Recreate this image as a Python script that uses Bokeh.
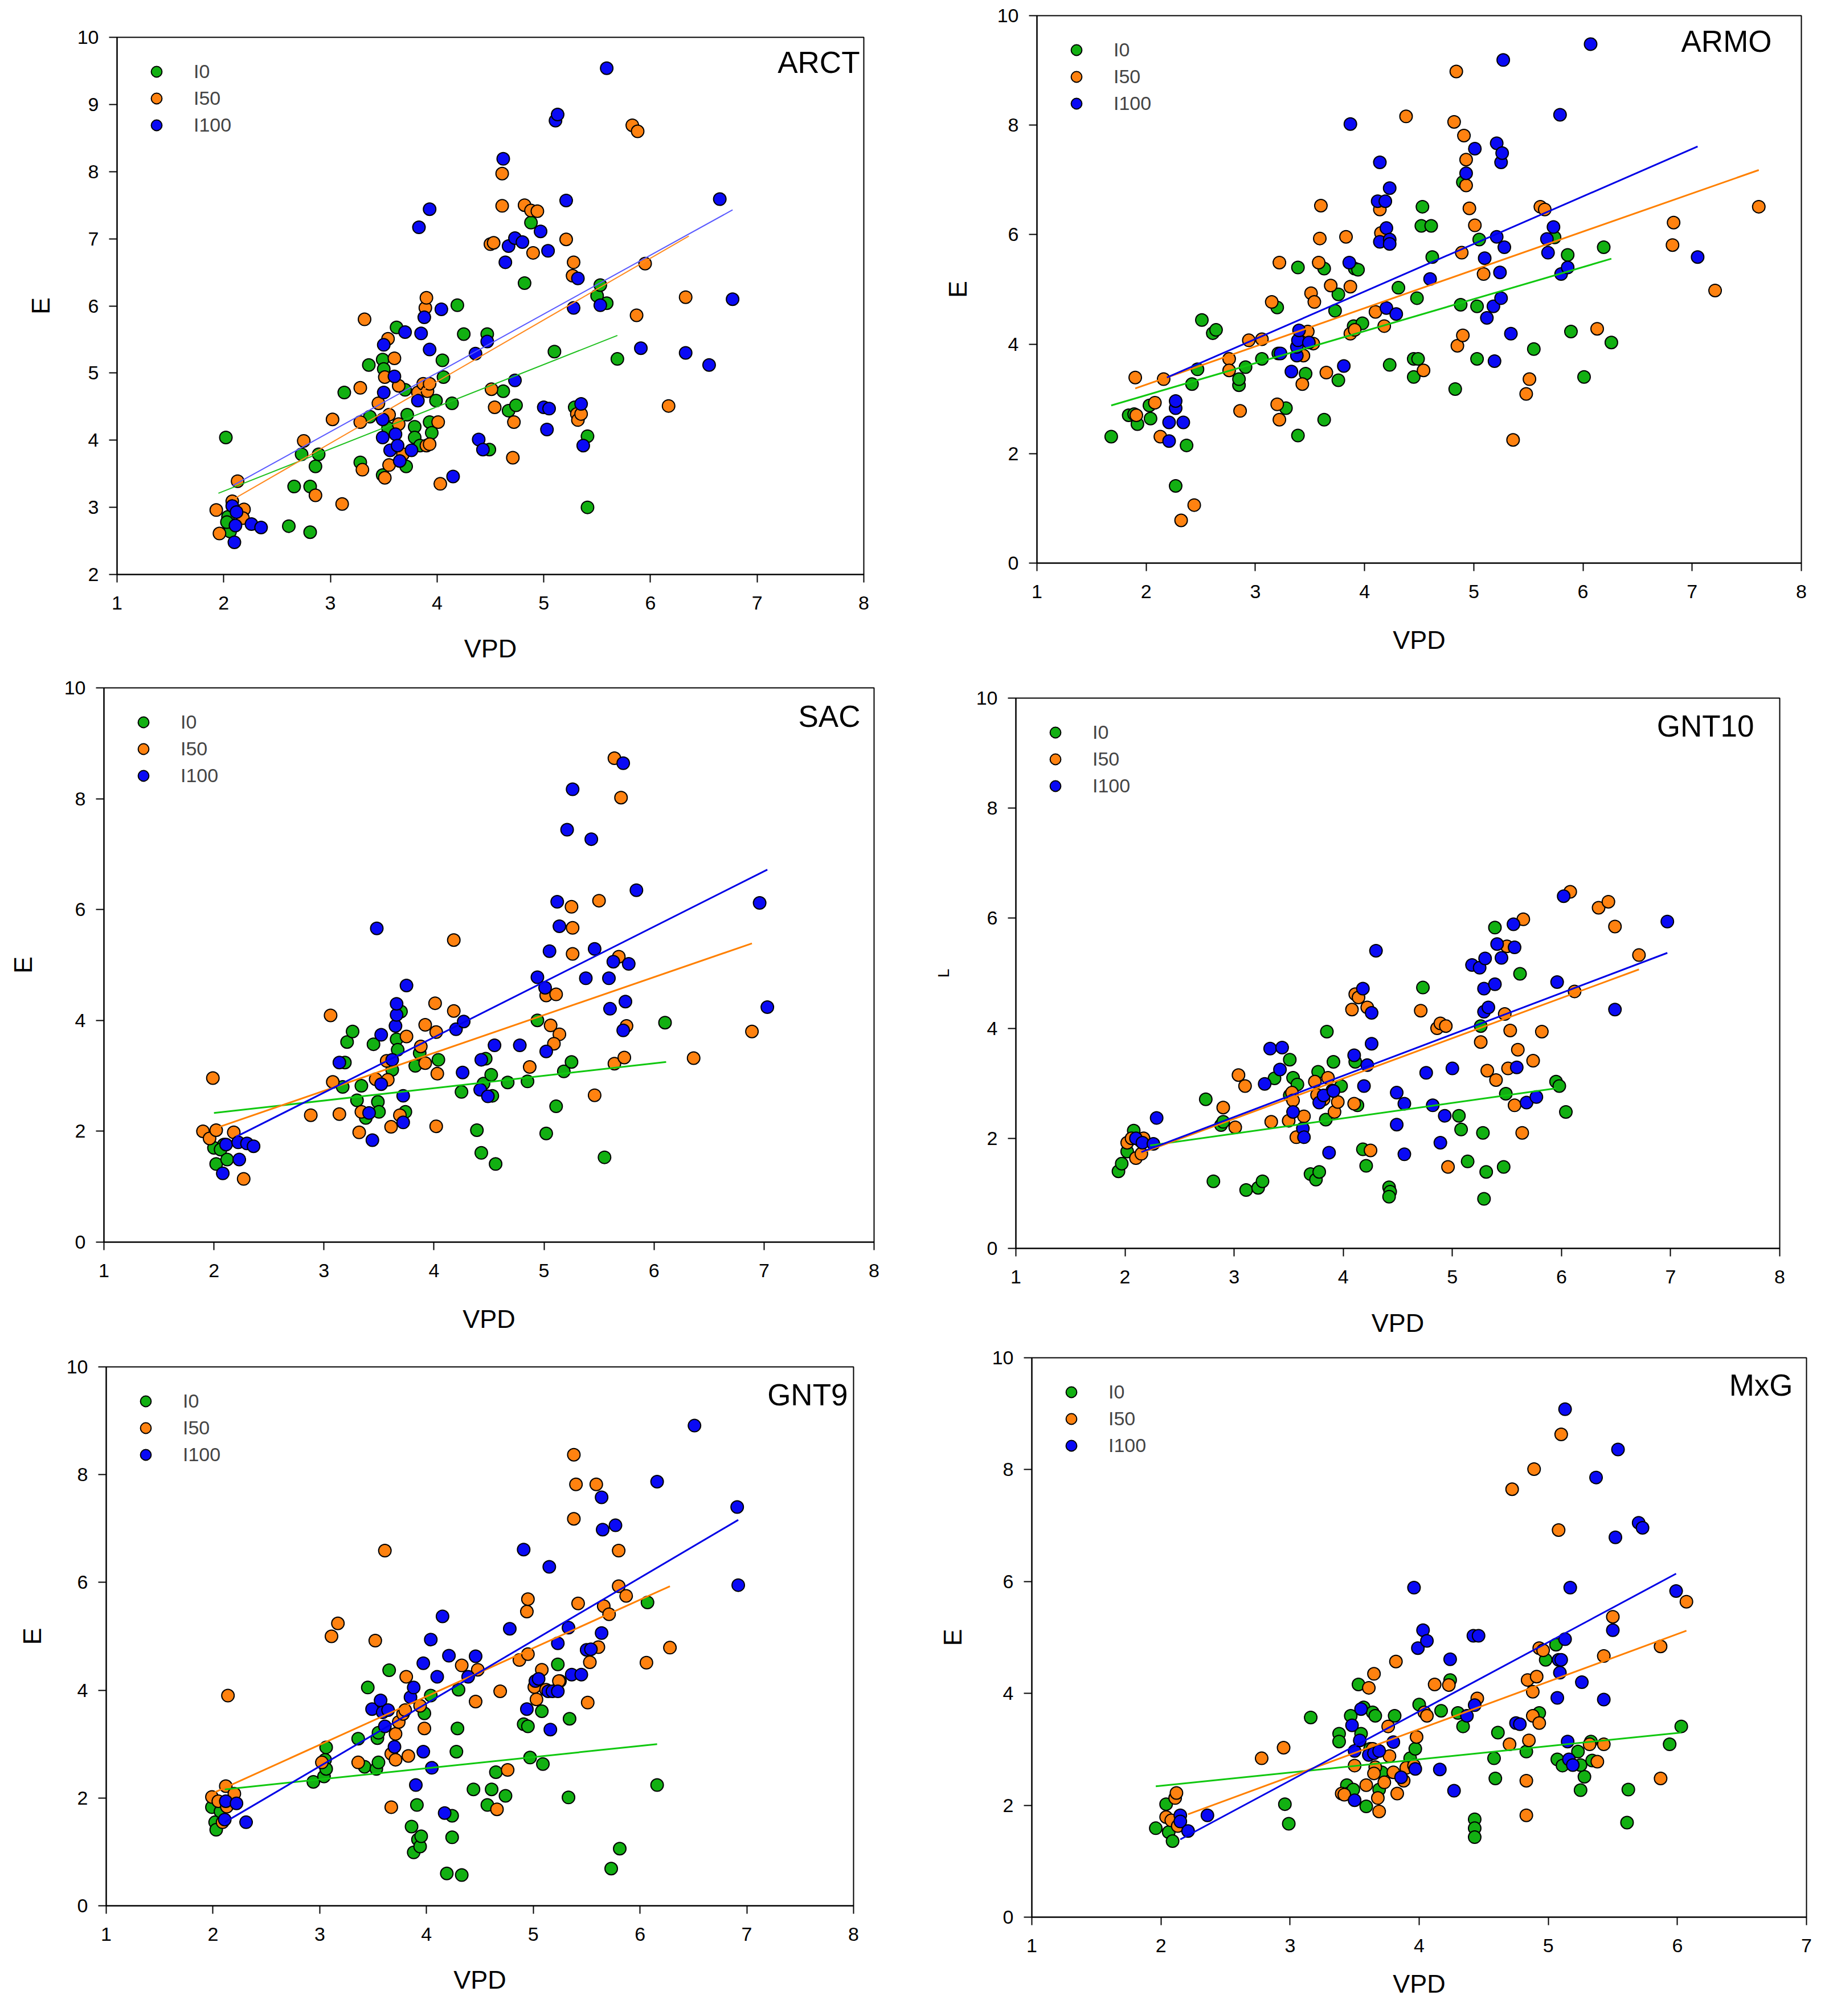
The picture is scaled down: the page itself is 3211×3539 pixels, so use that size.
from bokeh.plotting import figure
from bokeh.layouts import column, row
from bokeh.models import Range1d, FixedTicker, Legend, LegendItem, Label
from bokeh.embed import file_html
from bokeh.resources import INLINE

# ---------------- tick labels / categories ----------------
X_TICKS_8 = [1, 2, 3, 4, 5, 6, 7, 8]
X_TICKS_7 = [1, 2, 3, 4, 5, 6, 7]
Y_TICKS_ARCT = [2, 3, 4, 5, 6, 7, 8, 9, 10]
Y_TICKS = [0, 2, 4, 6, 8, 10]
SERIES = ["I0", "I50", "I100"]

# ---------------- ARCT ----------------
ARCT_I0_VPD = [2.02,2.04,2.05,2.06,2.03,2.61,2.66,2.81,2.81,2.73,2.89,2.86,3.13,3.36,3.28,3.37,3.49,3.50,3.49,3.54,3.62,3.70,3.72,3.71,3.79,3.79,3.84,3.93,3.99,4.05,4.06,4.19,4.25,4.14,3.95,4.47,4.49,4.62,4.67,4.74,4.82,4.88,5.10,5.29,5.41,5.41,5.50,5.53,5.59,5.69]
ARCT_I0_E = [4.04,2.86,2.73,2.64,2.78,2.72,3.31,3.31,2.63,3.79,3.79,3.61,4.71,5.12,3.67,4.35,5.20,5.06,3.48,4.18,5.68,4.75,4.38,3.61,4.20,4.04,3.92,4.27,4.59,5.19,4.94,6.01,5.58,4.55,4.11,5.58,3.86,4.73,4.44,4.52,6.34,7.24,5.32,4.49,4.06,3.00,6.15,6.31,6.04,5.21]
ARCT_I50_VPD = [1.93,1.96,2.08,2.13,2.19,2.18,2.75,2.86,3.02,3.11,3.28,3.28,3.30,3.32,3.45,3.51,3.54,3.51,3.55,3.55,3.60,3.64,3.64,3.68,3.82,3.87,3.89,3.90,3.91,3.93,3.90,3.93,4.01,4.03,4.50,4.53,4.51,4.54,4.61,4.61,4.72,4.71,4.82,4.88,4.94,4.90,5.21,5.28,5.27,5.31,5.32,5.35,5.83,5.88,5.87,5.95,6.17,6.33]
ARCT_I50_E = [2.96,2.61,3.09,3.39,2.97,2.84,3.99,3.18,4.31,3.05,4.78,4.27,3.56,5.80,4.55,4.94,5.51,3.44,4.38,3.63,5.22,4.81,4.24,3.79,4.71,4.84,5.97,6.12,4.73,4.84,3.92,3.94,4.27,3.35,6.92,6.94,4.76,4.49,7.97,7.49,4.27,3.74,7.50,7.42,7.41,6.79,6.99,6.65,6.45,4.39,4.30,4.39,8.69,8.60,5.86,6.63,4.51,6.13]
ARCT_I100_VPD = [2.08,2.12,2.11,2.10,2.26,2.35,3.49,3.49,3.50,3.50,3.56,3.60,3.61,3.63,3.65,3.70,3.76,3.82,3.83,3.85,3.88,3.93,3.93,4.04,4.15,4.36,4.39,4.43,4.47,4.62,4.64,4.67,4.73,4.73,4.80,4.97,5.00,5.05,5.03,5.04,5.11,5.13,5.21,5.28,5.32,5.35,5.37,5.53,5.59,5.91,6.33,6.55,6.65,6.77]
ARCT_I100_E = [3.02,2.93,2.73,2.48,2.75,2.70,4.31,4.04,4.71,5.42,3.85,4.95,4.09,3.92,3.69,5.61,3.85,4.59,7.17,5.59,5.83,7.44,5.35,5.95,3.46,5.29,4.01,3.86,5.47,8.19,6.65,6.89,7.01,4.89,6.95,7.11,4.49,4.47,4.16,6.82,8.76,8.85,7.57,5.97,6.41,4.54,3.92,6.01,9.54,5.37,5.30,5.12,7.59,6.10]
ARCT_FIT_I0_VPD = [1.95, 5.69]
ARCT_FIT_I0_E = [3.21, 5.56]
ARCT_FIT_I50_VPD = [2.09, 6.36]
ARCT_FIT_I50_E = [3.12, 7.04]
ARCT_FIT_I100_VPD = [2.08, 6.77]
ARCT_FIT_I100_E = [3.32, 7.43]

# ---------------- ARMO ----------------
ARMO_I0_VPD = [1.68,1.84,1.89,1.92,2.03,2.04,2.37,2.27,2.42,2.47,2.51,2.61,2.64,2.85,2.85,2.91,3.06,3.20,3.21,3.28,3.39,3.39,3.46,3.63,3.63,3.73,3.76,3.76,3.91,3.94,3.90,3.98,4.23,4.31,4.45,4.49,4.45,4.48,4.53,4.52,4.61,4.62,4.83,4.88,4.90,5.03,5.03,5.05,5.55,5.74,5.86,5.89,6.01,6.19,6.26]
ARMO_I0_E = [2.31,2.70,2.72,2.54,2.88,2.64,2.15,1.41,3.27,3.54,4.44,4.20,4.26,3.25,3.36,3.58,3.73,4.67,3.83,2.83,5.40,2.33,3.46,5.38,2.62,4.61,4.91,3.34,5.38,5.36,4.33,4.38,3.62,5.03,3.73,3.73,3.40,4.84,6.51,6.16,6.16,5.59,3.18,4.72,6.96,3.73,4.69,5.91,3.91,5.95,5.63,4.23,3.40,5.77,4.03]
ARMO_I50_VPD = [1.90,1.91,2.08,2.13,2.16,2.32,2.44,2.76,2.76,2.86,2.94,3.06,3.15,3.20,3.22,3.22,3.43,3.44,3.51,3.48,3.53,3.54,3.58,3.59,3.60,3.65,3.69,3.83,3.87,3.87,3.91,4.10,4.14,4.15,4.18,4.38,4.54,4.84,4.82,4.85,4.90,4.89,4.91,4.93,4.93,4.96,5.01,5.09,5.36,5.48,5.51,5.61,5.65,6.13,6.82,6.83,7.21,7.61]
ARMO_I50_E = [3.39,2.70,2.93,2.31,3.36,0.78,1.06,3.73,3.52,2.78,4.07,4.09,4.77,2.90,2.62,5.49,3.27,3.79,4.93,4.23,4.01,4.77,5.49,5.93,6.53,3.48,5.07,5.96,5.05,4.19,4.26,4.59,6.46,6.03,4.33,8.16,3.52,8.98,8.06,3.97,4.16,5.67,7.81,7.37,6.90,6.48,6.17,5.28,2.25,3.09,3.36,6.51,6.46,4.28,5.81,6.22,4.98,6.51]
ARMO_I100_VPD = [2.21,2.21,2.27,2.27,2.34,3.23,3.33,3.38,3.38,3.39,3.40,3.49,3.81,3.86,3.87,4.14,4.12,4.19,4.14,4.20,4.23,4.23,4.23,4.20,4.29,4.60,4.93,5.01,5.10,5.12,5.18,5.19,5.21,5.21,5.25,5.26,5.24,5.25,5.27,5.28,5.34,5.67,5.68,5.73,5.79,5.80,5.86,6.07,7.05]
ARMO_I100_E = [2.23,2.57,2.83,2.96,2.57,3.83,3.50,3.79,3.95,4.07,4.25,4.03,3.60,5.49,8.02,7.32,6.61,6.61,5.87,6.12,6.85,5.91,5.83,4.66,4.55,5.19,7.12,7.57,5.57,4.48,4.69,3.69,5.96,7.67,7.32,7.49,5.31,4.84,9.19,5.77,4.19,5.92,5.67,6.14,8.19,5.28,5.40,9.48,5.59]
ARMO_FIT_I0_VPD = [1.68, 6.26]
ARMO_FIT_I0_E = [2.88, 5.56]
ARMO_FIT_I50_VPD = [1.90, 7.61]
ARMO_FIT_I50_E = [3.19, 7.18]
ARMO_FIT_I100_VPD = [2.19, 7.05]
ARMO_FIT_I100_E = [3.39, 7.61]

# ---------------- SAC ----------------
SAC_I0_VPD = [2.00,2.02,2.09,2.06,2.12,3.17,3.21,3.19,3.26,3.30,3.34,3.38,3.45,3.49,3.50,3.62,3.66,3.67,3.70,3.74,3.83,3.87,4.04,4.25,4.39,4.43,4.45,4.47,4.52,4.53,4.56,4.67,4.85,4.94,5.02,5.11,5.18,5.25,5.55,6.10]
SAC_I0_E = [1.70,1.41,1.76,1.67,1.49,2.80,3.61,3.24,3.80,2.56,2.82,2.24,3.57,2.53,2.35,3.11,3.66,3.47,4.16,2.35,3.18,3.41,3.29,2.71,2.02,1.61,2.86,3.31,3.02,2.64,1.41,2.88,2.90,4.00,1.96,2.45,3.08,3.25,1.53,3.96]
SAC_I50_VPD = [1.90,1.96,1.99,2.02,2.18,2.27,2.88,3.06,3.08,3.14,3.32,3.34,3.47,3.57,3.58,3.61,3.69,3.75,3.88,3.92,3.92,4.01,4.02,4.03,4.02,4.18,4.18,4.87,5.02,5.11,5.06,5.14,5.09,5.25,5.26,5.26,5.46,5.50,5.64,5.70,5.64,5.68,5.73,5.75,6.36,6.89]
SAC_I50_E = [2.00,1.87,2.96,2.02,1.98,1.14,2.29,4.09,2.89,2.31,1.98,2.35,2.94,3.27,2.93,2.08,2.29,3.71,3.53,3.23,3.92,4.31,3.79,3.04,2.09,5.45,4.17,3.16,4.45,4.47,3.91,3.75,3.58,6.05,5.67,5.20,2.65,6.16,8.73,8.02,3.22,5.15,3.33,3.90,3.32,3.80]
SAC_I100_VPD = [2.08,2.11,2.23,2.22,2.30,2.36,3.14,3.44,3.41,3.48,3.52,3.52,3.62,3.65,3.66,3.66,3.72,3.72,3.75,4.20,4.26,4.27,4.43,4.42,4.49,4.55,4.78,4.94,5.01,5.02,5.05,5.12,5.14,5.21,5.26,5.38,5.43,5.46,5.59,5.60,5.63,5.72,5.72,5.74,5.77,5.84,6.96,7.03]
SAC_I100_E = [1.24,1.76,1.49,1.80,1.78,1.73,3.24,1.84,2.33,5.66,2.85,3.74,3.29,3.90,4.10,4.30,2.64,2.16,4.63,3.84,3.06,3.98,3.29,2.75,2.63,3.55,3.55,4.78,4.59,3.44,5.25,6.14,5.70,7.44,8.17,4.76,7.27,5.29,4.76,4.21,5.06,8.64,3.82,4.34,5.02,6.35,6.12,4.24]
SAC_FIT_I0_VPD = [2.00, 6.11]
SAC_FIT_I0_E = [2.33, 3.25]
SAC_FIT_I50_VPD = [2.02, 6.89]
SAC_FIT_I50_E = [2.06, 5.39]
SAC_FIT_I100_VPD = [2.20, 7.03]
SAC_FIT_I100_E = [1.90, 6.72]

# ---------------- GNT10 ----------------
GNT10_I0_VPD = [1.94,1.97,2.02,2.08,2.14,2.74,2.81,2.88,2.90,3.11,3.22,3.26,3.37,3.51,3.54,3.51,3.58,3.70,3.75,3.78,3.77,3.84,3.85,3.91,3.98,4.11,4.13,4.18,4.21,4.42,4.43,4.42,4.73,5.06,5.08,5.14,5.26,5.28,5.31,5.29,5.39,5.47,5.49,5.62,5.95,5.98,6.04]
GNT10_I0_E = [1.40,1.54,1.76,2.14,1.96,2.71,1.22,2.24,2.30,1.06,1.10,1.22,3.09,3.43,3.10,2.78,2.98,1.35,1.25,1.39,3.21,2.34,3.94,3.39,2.95,3.39,2.60,1.80,1.50,1.11,1.03,0.94,4.74,2.41,2.16,1.58,4.04,2.10,1.39,0.90,5.83,1.48,2.81,4.99,3.03,2.95,2.48]
GNT10_I50_VPD = [2.02,2.06,2.10,2.15,2.17,2.90,3.01,3.04,3.10,3.34,3.50,3.53,3.54,3.57,3.64,3.74,3.76,3.82,3.86,3.90,3.92,3.95,4.08,4.10,4.11,4.14,4.22,4.25,4.71,4.86,4.89,4.94,4.96,5.26,5.32,5.40,5.48,5.51,5.50,5.53,5.57,5.60,5.64,5.65,5.74,5.82,6.08,6.12,6.34,6.43,6.49,6.71]
GNT10_I50_E = [1.92,2.00,1.64,1.72,2.00,2.56,2.20,3.15,2.95,2.30,2.32,2.83,2.69,2.02,2.40,3.03,2.79,2.71,3.10,2.87,2.48,2.66,4.34,2.63,4.62,4.56,4.38,1.78,4.32,4.00,4.09,4.04,1.48,3.75,3.23,3.06,4.26,3.27,5.49,3.96,2.60,3.61,2.10,5.98,3.41,3.94,6.48,4.67,6.19,6.30,5.85,5.33]
GNT10_I100_VPD = [2.10,2.16,2.26,2.29,3.28,3.33,3.44,3.42,3.54,3.63,3.64,3.78,3.82,3.91,3.87,4.10,4.18,4.19,4.22,4.26,4.26,4.30,4.49,4.49,4.56,4.56,4.76,4.82,4.89,4.93,5.00,5.18,5.25,5.30,5.29,5.29,5.33,5.39,5.41,5.45,5.56,5.57,5.59,5.68,5.77,5.96,6.02,6.49,6.97]
GNT10_I100_E = [2.00,1.92,1.90,2.37,2.99,3.63,3.65,3.25,2.48,2.18,2.02,2.65,2.78,2.86,1.74,3.51,4.72,2.95,3.33,4.28,3.72,5.41,2.83,2.25,2.63,1.71,3.19,2.60,1.92,2.41,3.27,5.15,5.10,5.27,4.72,4.30,4.38,4.80,5.53,5.28,5.89,5.47,3.29,2.65,2.75,4.84,6.40,4.34,5.94]
GNT10_FIT_I0_VPD = [2.23, 5.95]
GNT10_FIT_I0_E = [1.87, 2.91]
GNT10_FIT_I50_VPD = [2.13, 6.71]
GNT10_FIT_I50_E = [1.72, 5.07]
GNT10_FIT_I100_VPD = [2.15, 6.97]
GNT10_FIT_I100_E = [1.75, 5.37]

# ---------------- GNT9 ----------------
GNT9_I0_VPD = [1.99,2.02,2.03,2.07,2.13,2.94,3.04,3.05,3.06,3.06,3.36,3.42,3.45,3.53,3.54,3.55,3.55,3.65,3.86,3.88,3.91,3.92,3.94,3.95,3.98,4.04,4.19,4.24,4.24,4.28,4.29,4.30,4.33,4.44,4.57,4.61,4.65,4.74,4.91,4.95,4.97,5.08,5.09,5.23,5.25,5.33,5.34,5.73,5.81,6.07,6.16]
GNT9_I0_E = [1.83,1.55,1.41,1.75,1.87,2.30,2.40,2.71,2.54,2.94,3.10,2.58,4.05,2.54,3.11,3.21,2.66,4.37,1.47,0.99,1.87,1.23,1.10,1.29,3.57,3.90,0.60,1.67,1.27,2.86,3.29,4.01,0.57,2.16,1.87,2.16,2.48,2.04,3.37,3.33,2.75,3.61,2.63,4.48,4.17,2.01,3.47,0.69,1.06,5.63,2.24]
GNT9_I50_VPD = [1.99,2.05,2.09,2.12,2.14,2.20,2.13,3.02,3.11,3.17,3.36,3.52,3.61,3.67,3.67,3.71,3.71,3.74,3.78,3.80,3.81,3.83,3.94,3.98,4.33,4.46,4.48,4.66,4.69,4.76,4.87,4.94,4.95,4.95,5.01,5.03,5.08,5.12,5.24,5.38,5.38,5.40,5.42,5.51,5.53,5.59,5.61,5.66,5.71,5.80,5.80,5.87,6.06,6.28]
GNT9_I50_E = [2.02,1.94,1.55,2.22,3.90,2.08,1.84,2.66,5.00,5.24,2.66,4.92,6.59,1.83,2.82,2.71,3.19,3.41,3.56,3.63,4.25,2.78,3.71,3.29,4.46,3.79,4.38,1.79,3.98,2.52,4.56,5.46,5.69,4.67,4.06,3.83,4.38,4.01,4.17,8.37,7.18,7.82,5.61,3.77,4.52,7.82,4.80,5.56,5.41,6.59,5.93,5.75,4.51,4.79]
GNT9_I100_VPD = [2.11,2.12,2.22,2.31,3.49,3.57,3.59,3.61,3.64,3.70,3.85,3.88,3.90,3.97,3.97,4.04,4.05,4.10,4.15,4.17,4.21,4.39,4.46,4.78,4.91,4.94,5.02,5.05,5.14,5.15,5.16,5.18,5.23,5.23,5.33,5.36,5.45,5.50,5.54,5.64,5.65,5.64,5.77,6.16,6.51,6.91,6.92]
GNT9_I100_E = [1.60,1.94,1.90,1.55,3.65,3.81,3.59,3.33,3.63,2.95,3.87,4.05,2.24,4.50,2.86,4.94,2.56,4.25,5.37,1.72,4.64,4.25,4.63,5.14,6.61,3.65,4.17,4.21,3.98,6.29,3.27,3.98,3.98,4.87,5.16,4.29,4.29,4.75,4.76,7.58,6.98,5.06,7.06,7.87,8.91,7.40,5.95]
GNT9_FIT_I0_VPD = [2.11, 6.16]
GNT9_FIT_I0_E = [2.16, 3.00]
GNT9_FIT_I50_VPD = [2.01, 6.28]
GNT9_FIT_I50_E = [2.10, 5.93]
GNT9_FIT_I100_VPD = [2.11, 6.92]
GNT9_FIT_I100_E = [1.55, 7.16]

# ---------------- MxG ----------------
MXG_I0_VPD = [1.96,2.04,2.06,2.09,2.96,2.99,3.16,3.38,3.38,3.44,3.45,3.47,3.49,3.53,3.55,3.57,3.59,3.62,3.64,3.66,3.69,3.71,3.81,3.93,3.97,4.00,4.17,4.24,4.30,4.34,4.43,4.43,4.43,4.58,4.59,4.61,4.83,4.93,4.98,5.06,5.07,5.11,5.23,5.25,5.28,5.25,5.33,5.34,5.61,5.62,5.94,6.03]
MXG_I0_E = [1.59,2.02,1.52,1.36,2.02,1.67,3.57,3.28,3.14,2.36,2.21,3.60,2.28,4.16,3.28,3.75,1.98,3.01,3.66,3.60,2.28,2.59,3.60,2.84,3.01,3.80,3.69,4.24,3.65,3.41,1.75,1.59,1.43,2.84,2.48,3.30,2.96,3.65,4.60,4.87,2.82,2.71,2.96,2.27,2.51,2.72,3.14,2.80,1.69,2.28,3.09,3.41]
MXG_I50_VPD = [2.04,2.08,2.11,2.12,2.13,2.78,2.95,3.40,3.42,3.50,3.59,3.61,3.64,3.65,3.66,3.65,3.68,3.69,3.73,3.76,3.77,3.80,3.82,3.83,3.88,3.90,3.96,3.98,4.04,4.06,4.12,4.23,4.45,4.70,4.72,4.83,4.83,4.84,4.85,4.88,4.88,4.89,4.91,4.93,4.93,4.96,5.08,5.10,5.32,5.38,5.43,5.43,5.50,5.87,5.87,6.07]
MXG_I50_E = [1.79,1.73,2.13,2.22,1.63,2.84,3.03,2.21,2.19,2.71,2.36,4.10,3.01,4.35,2.68,2.57,2.13,1.89,2.41,3.41,2.88,2.59,4.57,2.21,2.44,2.67,2.71,3.22,3.66,3.60,4.16,4.15,3.91,3.09,7.65,1.82,2.44,4.24,3.16,4.03,3.60,8.01,4.30,3.47,4.81,4.77,6.92,8.63,3.09,2.78,3.09,4.67,5.37,2.48,4.84,5.64]
MXG_I100_VPD = [2.15,2.15,2.21,2.36,3.48,3.50,3.50,3.54,3.55,3.61,3.65,3.69,3.80,3.86,3.96,3.97,3.99,4.03,4.06,4.16,4.24,4.27,4.37,4.43,4.42,4.46,4.75,4.78,5.07,5.08,5.10,5.09,5.13,5.13,5.15,5.16,5.17,5.19,5.26,5.37,5.43,5.50,5.52,5.54,5.70,5.73,5.99]
MXG_I100_E = [1.82,1.71,1.54,1.82,3.43,2.97,2.09,3.16,3.72,2.90,2.93,2.97,3.13,2.50,5.89,2.65,4.81,5.13,4.94,2.64,4.61,2.26,3.60,3.79,5.03,5.03,3.47,3.45,3.92,4.60,4.60,4.37,4.97,9.08,3.14,2.82,5.89,2.72,4.20,7.86,3.89,5.13,6.79,8.36,7.05,6.96,5.83]
MXG_FIT_I0_VPD = [1.96, 6.03]
MXG_FIT_I0_E = [2.34, 3.30]
MXG_FIT_I50_VPD = [2.21, 6.07]
MXG_FIT_I50_E = [1.84, 5.12]
MXG_FIT_I100_VPD = [2.15, 5.99]
MXG_FIT_I100_E = [1.39, 6.14]

# ---------------- styling ----------------
FONT = "Liberation Sans"
FILL = {"I0": "#12B012", "I50": "#FF8210", "I100": "#0A0AF5"}
LINE = {"I0": "#10C810", "I50": "#FF8000", "I100": "#0000E6"}
LINE_ARCT = {"I0": "#20C020", "I50": "#FF8A20", "I100": "#5A5AFF"}


def make_panel(name, ylabel, pts, fits, xr, yr, xt, yt, w, h, bl, br, bt, bb,
               tdx, tdy, xstand=40, ystand=34, lw=3, lcol=LINE, ylab_size="45px"):
    p = figure(width=w, height=h, x_range=Range1d(*xr), y_range=Range1d(*yr),
               output_backend="svg", toolbar_location=None, frame_align=False,
               min_border_left=bl, min_border_right=br,
               min_border_top=bt, min_border_bottom=bb)
    p.grid.visible = False
    p.outline_line_color = "black"
    p.outline_line_width = 2
    p.background_fill_color = "white"
    p.border_fill_color = "white"
    for ax in (p.xaxis[0], p.yaxis[0]):
        ax.axis_line_width = 2
        ax.axis_line_color = "black"
        ax.major_tick_line_width = 2
        ax.major_tick_out = 14
        ax.major_tick_in = 0
        ax.minor_tick_line_color = None
        ax.major_label_text_font = FONT
        ax.major_label_text_font_size = "34px"
        ax.major_label_text_color = "black"
        ax.axis_label_text_font = FONT
        ax.axis_label_text_font_style = "normal"
        ax.axis_label_text_color = "black"
    p.xaxis.ticker = FixedTicker(ticks=xt)
    p.yaxis.ticker = FixedTicker(ticks=yt)
    p.xaxis.axis_label = "VPD"
    p.yaxis.axis_label = ylabel
    p.xaxis.axis_label_text_font_size = "45px"
    p.yaxis.axis_label_text_font_size = ylab_size
    p.xaxis.major_label_standoff = 24
    p.yaxis.major_label_standoff = 18
    p.xaxis.axis_label_standoff = xstand
    p.yaxis.axis_label_standoff = ystand

    items = []
    for s in SERIES:
        xs, ys = pts[s]
        n = min(len(xs), len(ys))
        r = p.scatter(x=xs[:n], y=ys[:n], size=22, fill_color=FILL[s],
                      line_color="black", line_width=2)
        items.append(LegendItem(label=s, renderers=[r]))
    for s in SERIES:
        fx, fy = fits[s]
        p.line(x=fx, y=fy, line_color=lcol[s], line_width=lw)

    legend = Legend(items=items, location="top_left", margin=0, padding=37,
                    spacing=0, glyph_width=65, glyph_height=47, label_standoff=33,
                    label_text_font=FONT, label_text_font_size="34px",
                    border_line_alpha=0, background_fill_alpha=0)
    p.add_layout(legend)
    p.add_layout(Label(x=xr[1], y=yr[1], x_offset=-tdx, y_offset=-tdy, text=name,
                       text_align="right", text_baseline="middle",
                       text_font=FONT, text_font_size="53px", text_color="black"))
    return p


WL, WR = 1597, 1598
H1, H2, H3 = 1179, 1182, 1161

p1 = make_panel("ARCT", "E",
                {"I0": (ARCT_I0_VPD, ARCT_I0_E), "I50": (ARCT_I50_VPD, ARCT_I50_E), "I100": (ARCT_I100_VPD, ARCT_I100_E)},
                {"I0": (ARCT_FIT_I0_VPD, ARCT_FIT_I0_E), "I50": (ARCT_FIT_I50_VPD, ARCT_FIT_I50_E), "I100": (ARCT_FIT_I100_VPD, ARCT_FIT_I100_E)},
                (1, 8), (2, 10), X_TICKS_8, Y_TICKS_ARCT, WL, H1, 205, 81, 65, 171,
                7, 44, ystand=36, lw=2, lcol=LINE_ARCT)
p2 = make_panel("ARMO", "E",
                {"I0": (ARMO_I0_VPD, ARMO_I0_E), "I50": (ARMO_I50_VPD, ARMO_I50_E), "I100": (ARMO_I100_VPD, ARMO_I100_E)},
                {"I0": (ARMO_FIT_I0_VPD, ARMO_FIT_I0_E), "I50": (ARMO_FIT_I50_VPD, ARMO_FIT_I50_E), "I100": (ARMO_FIT_I100_VPD, ARMO_FIT_I100_E)},
                (1, 8), (0, 10), X_TICKS_8, Y_TICKS, WR, H1, 223, 33, 27, 191,
                52, 45, xstand=45, ystand=41)
p3 = make_panel("SAC", "E",
                {"I0": (SAC_I0_VPD, SAC_I0_E), "I50": (SAC_I50_VPD, SAC_I50_E), "I100": (SAC_I100_VPD, SAC_I100_E)},
                {"I0": (SAC_FIT_I0_VPD, SAC_FIT_I0_E), "I50": (SAC_FIT_I50_VPD, SAC_FIT_I50_E), "I100": (SAC_FIT_I100_VPD, SAC_FIT_I100_E)},
                (1, 8), (0, 10), X_TICKS_8, Y_TICKS, WL, H2, 182, 63, 28, 181,
                24, 50, xstand=45, ystand=44)
p4 = make_panel("GNT10", "L",
                {"I0": (GNT10_I0_VPD, GNT10_I0_E), "I50": (GNT10_I50_VPD, GNT10_I50_E), "I100": (GNT10_I100_VPD, GNT10_I100_E)},
                {"I0": (GNT10_FIT_I0_VPD, GNT10_FIT_I0_E), "I50": (GNT10_FIT_I50_VPD, GNT10_FIT_I50_E), "I100": (GNT10_FIT_I100_VPD, GNT10_FIT_I100_E)},
                (1, 8), (0, 10), X_TICKS_8, Y_TICKS, WR, H2, 186, 71, 46, 170,
                45, 49, xstand=41, ystand=39, ylab_size="28px")
p5 = make_panel("GNT9", "E",
                {"I0": (GNT9_I0_VPD, GNT9_I0_E), "I50": (GNT9_I50_VPD, GNT9_I50_E), "I100": (GNT9_I100_VPD, GNT9_I100_E)},
                {"I0": (GNT9_FIT_I0_VPD, GNT9_FIT_I0_E), "I50": (GNT9_FIT_I50_VPD, GNT9_FIT_I50_E), "I100": (GNT9_FIT_I100_VPD, GNT9_FIT_I100_E)},
                (1, 8), (0, 10), X_TICKS_8, Y_TICKS, WL, H3, 186, 99, 38, 177,
                10, 49, xstand=40, ystand=32)
p6 = make_panel("MxG", "E",
                {"I0": (MXG_I0_VPD, MXG_I0_E), "I50": (MXG_I50_VPD, MXG_I50_E), "I100": (MXG_I100_VPD, MXG_I100_E)},
                {"I0": (MXG_FIT_I0_VPD, MXG_FIT_I0_E), "I50": (MXG_FIT_I50_VPD, MXG_FIT_I50_E), "I100": (MXG_FIT_I100_VPD, MXG_FIT_I100_E)},
                (1, 7), (0, 10), X_TICKS_7, Y_TICKS, WR, H3, 214, 24, 22, 157,
                24, 48, xstand=27, ystand=41)

layout = column(row(p1, p2), row(p3, p4), row(p5, p6))
open("out.html", "w").write(file_html(layout, INLINE))
